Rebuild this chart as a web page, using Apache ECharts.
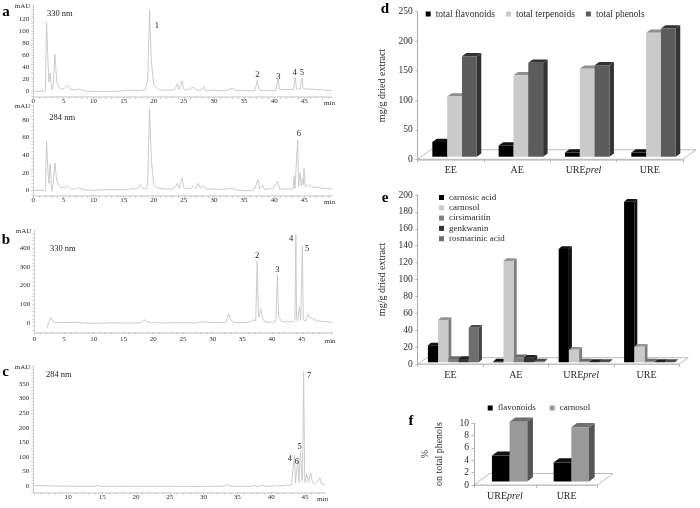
<!DOCTYPE html>
<html>
<head>
<meta charset="utf-8">
<style>html,body{margin:0;padding:0;background:#fff}#c{width:700px;height:508px}</style>
<script src="https://cdn.jsdelivr.net/npm/echarts@6/dist/echarts.min.js"></script>
</head>
<body>
<div id="c"></div>
<script>
// ---------- chromatogram traces: [minutes, mAU] ----------
var traceA330 = [[0,0],[2,0],[2.2,114],[2.4,60],[2.6,15],[2.8,30],[3,10],[3.15,2],[3.3,10],[3.6,61],[3.9,15],[4.2,8],[4.6,3],[5.2,5],[5.7,10],[6.2,3],[7,2],[7.5,4],[8.2,1.5],[9,0],[11,-0.5],[14,0],[14.5,0.5],[16.5,2],[17,1],[18,2],[18.6,2],[19,20],[19.3,135],[19.6,50],[20,10],[20.5,6],[21,2],[23,2],[23.5,3],[23.9,12],[24.2,3],[24.7,17],[25,3],[25.7,2],[26,5],[26.5,7],[27,2],[28,2],[28.3,8],[28.6,1],[30,2],[31,1],[32,1],[33,5],[33.6,1],[36.8,1],[37.2,18],[37.5,2],[38,1],[40.3,1],[40.6,20],[40.9,3],[43.2,3],[43.5,23],[43.7,4],[44.3,3],[44.6,22],[44.8,4],[47,3],[49.6,1]];
var traceA284 = [[0,0],[2,0],[2.2,56],[2.45,20],[2.6,8],[2.8,30],[3,6],[3.1,-1],[3.3,8],[3.6,31],[3.9,10],[4.2,7],[4.6,3],[5.2,3],[5.7,5],[6.3,1.5],[7,1.5],[7.5,3],[8.2,1],[10,0],[11,0.5],[13,0.8],[15,0.5],[16.5,2],[17,1.5],[17.5,3],[17.8,7],[18.2,2],[18.8,2],[19,10],[19.3,92],[19.6,35],[20,6],[20.5,3],[21.5,1.5],[23,1.5],[23.6,4],[23.9,8],[24.2,2.5],[24.7,14],[25,3],[25.5,2],[25.8,3],[26.1,2],[26.6,4.5],[27,2],[27.4,8],[27.7,2.5],[28.3,5.5],[28.6,1.5],[30,1.5],[31,1],[32,1.5],[33,2.5],[33.6,0.5],[35,-0.5],[36.5,-0.3],[36.8,2.5],[37,0.5],[37.3,12],[37.6,1.5],[38.1,6],[38.4,0.5],[39,2],[39.3,0],[39.8,1.5],[40.1,0.5],[40.6,10.5],[40.9,1.5],[43.15,1.5],[43.3,16],[43.45,2],[43.75,3],[43.9,57],[44.05,4],[44.3,20],[44.5,5],[44.7,13],[44.85,6],[44.95,25],[45.15,4],[45.7,7],[46.2,4],[47,3.5],[48,2.5],[49.6,1.5]];
var traceB330 = [[2.15,-30],[2.35,-5],[2.6,15],[2.85,27],[3.1,8],[3.5,0],[7,2],[9,-3],[12,-2],[12.5,0],[15,-2],[17,-2],[18,1],[18.6,15],[19,5],[19.5,1],[21,-1],[25,0],[27,-1],[27.2,8],[27.6,1],[28,8],[28.4,2],[28.8,6],[29.3,1],[31.5,0],[32.3,3],[32.7,50],[33.1,10],[33.7,1],[36,1],[36.7,14],[37,5],[37.25,12],[37.5,330],[37.7,50],[37.8,30],[38.1,75],[38.4,25],[38.8,3],[40.2,2],[40.65,10],[40.9,255],[41.1,30],[41.6,8],[42,3],[42.4,8],[42.7,3],[43,5],[43.2,14],[43.5,3],[43.85,15],[44,473],[44.12,30],[44.3,8],[44.6,85],[44.8,15],[44.97,15],[45.1,410],[45.25,15],[45.7,8],[46,45],[46.3,30],[46.5,35],[46.8,22],[47,25],[47.4,12],[48,8],[49,6],[50.2,1]];
var traceC284 = [[4.82,2],[6,1],[8,0],[12,-1],[14,-1],[14.3,2],[14.7,-1],[18,-1],[20,-1],[30,-1.5],[33,-0.5],[33.5,5],[34,-1],[37,-1],[37.5,1],[38,-1],[38.8,2],[39.2,-1],[40.5,0],[40.8,3],[41.2,0],[42,2],[43,3],[43.2,5],[43.43,105],[43.6,10],[43.75,12],[43.95,95],[44.1,12],[44.2,15],[44.35,118],[44.55,18],[44.65,25],[44.8,392],[44.95,40],[45,12],[45.25,42],[45.5,12],[45.85,45],[46.1,12],[46.5,6],[46.8,12],[47,6],[47.2,28],[47.45,7],[47.96,5]];

// ---------- chromatogram annotations: [minutes, mAU, text] ----------
var notesA330 = [[4.4,128,'330 nm'],[20.5,108,'1'],[37.2,27,'2'],[40.7,23.7,'3'],[43.4,30.4,'4'],[44.6,30.4,'5']];
var notesA284 = [[4.8,82.7,'284 nm'],[44.1,63.8,'6']];
var notesB330 = [[4.8,398,'330 nm'],[37.5,357,'2'],[40.9,282,'3'],[43.2,450,'4'],[45.9,395,'5']];
var notesC284 = [[8.6,383,'284 nm'],[45.6,378,'7'],[44.2,134,'5'],[42.75,95,'4'],[43.8,83,'6']];

// ---------- chromatogram tick labels ----------
var ticksXA = [0,5,10,15,20,25,30,35,40,45];
var ticksXB = [0,5,10,15,20,25,30,35,40,45];
var ticksXC = [10,15,20,25,30,35,40,45];
var ticksYA330 = [0,20,40,60,80,100,120];
var ticksYA284 = [0,20,40,60,80];
var ticksYB330 = [0,100,200,300,400];
var ticksYC284 = [0,50,100,150,200,250,300,350];

// ---------- bar panels ----------
var extractCats = ['EE','AE','UREprel','URE'];
var totalFlavonoids = [25,19,7,7];
var totalTerpenoids = [102,138,149,210];
var totalPhenols = [170,159,155,217];

var carnosicAcid = [20,1,134,190];
var carnosolE = [50,120,15,18.5];
var cirsimaritin = [4,6,1,1];
var genkwanin = [4,5.5,0.5,0.5];
var rosmarinicAcid = [41,1,0.5,0.5];

var ratioCats = ['UREprel','URE'];
var flavonoidsPct = [4.2,3.1];
var carnosolPct = [9.7,8.8];

// ---------- helpers ----------
var SERIF = '"Liberation Serif","Times New Roman",serif';
var TXT = '#2a2a2a';
function minorTicks(from, to, step){ var r=[]; for(var v=from; v<=to+1e-9; v+=step) r.push(v); return r; }

var option = {
  animation:false, backgroundColor:'#fff',
  textStyle:{fontFamily:SERIF},
  grid:[], xAxis:[], yAxis:[], series:[], legend:[],
  graphic:[]
};

function addTrace(g){
  var idx = option.grid.length;
  option.grid.push({left:g.left, top:g.top, width:g.width, height:g.height, containLabel:false});
  option.xAxis.push({
    type:'value', gridIndex:idx, min:g.xMin, max:g.xMax, name:'min', nameLocation:'end', nameGap:-8,
    nameTextStyle:{fontSize:7, color:TXT, verticalAlign:'top', padding:[g.xMargin+2,0,0,0], fontFamily:SERIF},
    axisLine:{onZero:false, lineStyle:{color:'#d6d6d6', width:1.5}},
    axisTick:{show:true, length:2, customValues:minorTicks(Math.ceil(g.xMin),g.xMax,1), lineStyle:{color:'#b5b5b5', width:0.6}},
    axisLabel:{fontSize:7, color:TXT, margin:g.xMargin, fontFamily:SERIF, customValues:g.xTicks, hideOverlap:false, showMinLabel:true, showMaxLabel:true},
    splitLine:{show:false}
  });
  option.yAxis.push({
    type:'value', gridIndex:idx, min:g.yMin, max:g.yMax, name:'mAU', nameLocation:'end', nameGap:-5,
    nameTextStyle:{fontSize:7, color:TXT, align:'right', padding:[0,3,0,0], fontFamily:SERIF},
    axisLine:{onZero:false, lineStyle:{color:'#d0d0d0', width:1}},
    axisTick:{show:true, length:2, customValues:minorTicks(Math.ceil(g.yMin/g.yMinor)*g.yMinor,g.yMax,g.yMinor), lineStyle:{color:'#b5b5b5', width:0.6}},
    axisLabel:{fontSize:7, color:TXT, margin:4, fontFamily:SERIF, customValues:g.yTicks, showMinLabel:true, showMaxLabel:true},
    splitLine:{show:false}
  });
  option.series.push({
    type:'line', xAxisIndex:idx, yAxisIndex:idx, data:g.data, showSymbol:false, silent:true, smooth:false,
    lineStyle:{color:'#c6c6c6', width:0.9},
    markPoint:{
      symbol:'circle', symbolSize:0, silent:true,
      label:{show:true, position:'inside', formatter:'{b}', fontSize:8.5, color:'#222', fontFamily:SERIF},
      data:g.notes.map(function(n){ return {name:n[2], coord:[n[0],n[1]]}; })
    }
  });
}

function catLabel(v){ return v.indexOf('prel')>0 ? 'URE{i|prel}' : v; }

function addBars(g){
  var idx = option.grid.length;
  option.grid.push({left:g.left, top:g.top, width:g.width, height:g.height, containLabel:false});
  option.xAxis.push({
    type:'category', gridIndex:idx, data:g.cats,
    axisLine:{onZero:false, lineStyle:{color:'#c9c9c9', width:1.6}},
    axisTick:{show:true, length:3, alignWithLabel:false, lineStyle:{color:'#aaa', width:0.8}},
    axisLabel:{fontSize:10, color:TXT, margin:6, fontFamily:SERIF, interval:0, formatter:catLabel,
      rich:{i:{fontStyle:'italic', fontSize:10, color:TXT, fontFamily:SERIF}}}
  });
  option.yAxis.push({
    type:'value', gridIndex:idx, min:g.yMin, max:g.yMax, interval:g.yStep,
    name:g.yName, nameLocation:'middle', nameGap:g.nameGap, nameRotate:90,
    nameTextStyle:{fontSize:g.nameSize||10, color:TXT, fontFamily:SERIF, lineHeight:14},
    axisLine:{show:true, onZero:false, lineStyle:{color:'#aaaaaa', width:1}},
    axisTick:{show:true, length:2.5, lineStyle:{color:'#aaa', width:0.8}},
    axisLabel:{fontSize:g.tickSize||9.5, color:TXT, margin:5, fontFamily:SERIF},
    splitLine:{show:false}
  });
  // floor of the 3D box
  option.series.push({
    type:'custom', name:'floor', xAxisIndex:idx, yAxisIndex:idx, silent:true, z:1,
    data:[[0,0]],
    renderItem:function(p, api){
      var c=p.coordSys, y=c.y+c.height, x=c.x, w=c.width;
      return {type:'polygon', shape:{points:[[x,y],[x+w,y],[x+w+g.floorX,y-g.floorY],[x+g.floorX,y-g.floorY]]},
        style:{fill:'#fff', stroke:'#a8a8a8', lineWidth:0.8}};
    }
  });
  var n=g.bars.length;
  g.bars.forEach(function(b,i){
    option.series.push({
      type:'custom', name:b.name, xAxisIndex:idx, yAxisIndex:idx, silent:true, z:2,
      encode:{x:0,y:1},
      itemStyle:{color:b.front},
      data:b.values.map(function(v,k){ return [k,v]; }),
      renderItem:function(p, api){
        var pt=api.coord([api.value(0),api.value(1)]);
        var base=api.coord([api.value(0),0]);
        var bw=api.size([1,0])[0]*g.barFrac;
        var x0=pt[0]+g.shiftX+(i-n/2)*bw, x1=x0+bw;
        var yT=pt[1]-g.shiftY, yB=base[1]-g.shiftY;
        var dx=g.depthX, dy=g.depthY;
        return {type:'group', children:[
          {type:'polygon', shape:{points:[[x1,yT],[x1+dx,yT-dy],[x1+dx,yB-dy],[x1,yB]]}, style:{fill:b.side}},
          {type:'polygon', shape:{points:[[x0,yT],[x0+dx,yT-dy],[x1+dx,yT-dy],[x1,yT]]}, style:{fill:b.top}},
          {type:'rect', shape:{x:x0,y:yT,width:bw,height:yB-yT}, style:{fill:b.front}}
        ]};
      }
    });
  });
  option.legend.push(Object.assign({
    data:g.bars.map(function(b){ return {name:b.name}; }),
    icon:'rect', itemWidth:5, itemHeight:5, selectedMode:false, padding:0,
    textStyle:{fontSize:9.5, color:TXT, fontFamily:SERIF}
  }, g.legend));
}

// ---------- panels ----------
addTrace({left:33.3, top:5, width:298.7, height:92, xMin:0, xMax:49.6, yMin:-9.5, yMax:142.7, yMinor:4, xMargin:1,
  xTicks:ticksXA, yTicks:ticksYA330, data:traceA330, notes:notesA330});
addTrace({left:33.3, top:105, width:298.7, height:91, xMin:0, xMax:49.6, yMin:-6.4, yMax:96.6, yMinor:4, xMargin:1,
  xTicks:ticksXA, yTicks:ticksYA284, data:traceA284, notes:notesA284});
addTrace({left:34.3, top:230, width:298.4, height:102.3, xMin:0, xMax:50.2, yMin:-51.6, yMax:497, yMinor:20, xMargin:3,
  xTicks:ticksXB, yTicks:ticksYB330, data:traceB330, notes:notesB330});
addTrace({left:33.3, top:365.7, width:291.7, height:127, xMin:4.82, xMax:47.96, yMin:-23, yMax:413, yMinor:10, xMargin:1,
  xTicks:ticksXC, yTicks:ticksYC284, data:traceC284, notes:notesC284});

addBars({left:417.7, top:11.7, width:265.3, height:147.6, cats:extractCats,
  yMin:0, yMax:250, yStep:50, yName:'mg/g dried extract', nameGap:28,
  barFrac:0.2235, shiftX:3.7, shiftY:2.6, depthX:4.5, depthY:3.3, floorX:13, floorY:9.5,
  bars:[
    {name:'total flavonoids', values:totalFlavonoids, front:'#000000', top:'#111111', side:'#111111'},
    {name:'total terpenoids', values:totalTerpenoids, front:'#cacaca', top:'#8f8f8f', side:'#8a8a8a'},
    {name:'total phenols', values:totalPhenols, front:'#5c5c5c', top:'#333333', side:'#333333'}
  ],
  legend:{left:425.7, top:9, itemGap:11, orient:'horizontal'}
});

addBars({left:417.7, top:195, width:261.6, height:169, cats:extractCats,
  yMin:0, yMax:200, yStep:20, yName:'mg/g dried extract', nameGap:28, tickSize:9.5,
  barFrac:0.156, shiftX:3, shiftY:1.7, depthX:3, depthY:2.7, floorX:9, floorY:6.3,
  bars:[
    {name:'carnosic acid', values:carnosicAcid, front:'#000000', top:'#111111', side:'#111111'},
    {name:'carnosol', values:carnosolE, front:'#cacaca', top:'#959595', side:'#7c7c7c'},
    {name:'cirsimaritin', values:cirsimaritin, front:'#808080', top:'#6a6a6a', side:'#5e5e5e'},
    {name:'genkwanin', values:genkwanin, front:'#333333', top:'#222222', side:'#222222'},
    {name:'rosmarinic acid', values:rosmarinicAcid, front:'#6e6e6e', top:'#4a4a4a', side:'#444444'}
  ],
  legend:{left:439, top:193, itemGap:1.3, orient:'vertical', textStyle:{fontSize:9, color:TXT, fontFamily:SERIF}}
});

addBars({left:474, top:423.3, width:123.5, height:61.7, cats:ratioCats,
  yMin:0, yMax:10, yStep:2, yName:'%\non total phenols', nameGap:28, nameSize:10,
  barFrac:0.286, shiftX:4.7, shiftY:3.5, depthX:5.7, depthY:4.2, floorX:15.5, floorY:11.5,
  bars:[
    {name:'flavonoids', values:flavonoidsPct, front:'#000000', top:'#111111', side:'#111111'},
    {name:'carnosol ', values:carnosolPct, front:'#999999', top:'#6f6f6f', side:'#555555'}
  ],
  legend:{left:487.7, top:403.5, itemGap:14, orient:'horizontal', textStyle:{fontSize:9, color:TXT, fontFamily:SERIF}}
});

// ---------- panel letters ----------
[['a',6,12],['b',6,240],['c',5.5,372],['d',385,9],['e',385,198],['f',411,421]].forEach(function(l){
  option.graphic.push({type:'text', x:l[1], y:l[2], silent:true,
    style:{text:l[0], fill:'#000', font:'bold 15px '+SERIF, align:'center', verticalAlign:'middle'}});
});

var chart = echarts.init(document.getElementById('c'), null, {renderer:'canvas', width:700, height:508});
chart.setOption(option);
</script>
</body>
</html>
